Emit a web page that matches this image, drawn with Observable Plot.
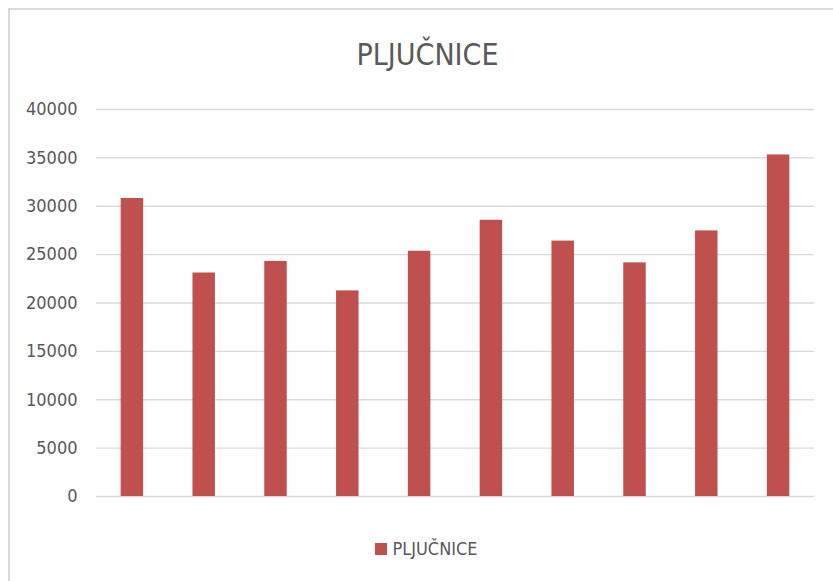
<!DOCTYPE html>
<html>
<head>
<meta charset="utf-8">
<script src="https://cdn.jsdelivr.net/npm/d3@7"></script>
<script src="https://cdn.jsdelivr.net/npm/@observablehq/plot@0.6"></script>
<style>
  html, body { margin: 0; padding: 0; background: #fff; }
  body { width: 833px; height: 581px; position: relative; overflow: hidden;
         font-family: "DejaVu Sans Condensed", "DejaVu Sans", sans-serif; font-stretch: condensed; }
  #frame { position: absolute; left: 8px; top: 8px; width: 840px; height: 600px;
           border-top: 2px solid #d9d9d9; border-left: 2px solid #d9d9d9; box-sizing: border-box; }
  #chart { position: absolute; left: 0; top: 0; }
  #title { position: absolute; left: 0; width: 855px; top: 40px; text-align: center;
           font-size: 30px; color: #595959; line-height: 1; }
  #legend { position: absolute; left: 0; width: 853px; top: 540px; text-align: center;
            font-size: 18px; color: #595959; line-height: 1; }
  #legend .sw { display: inline-block; width: 12px; height: 12px; background: #c0504d;
                margin-right: 5px; vertical-align: 0px; }
</style>
</head>
<body>
<div id="frame"></div>
<div id="chart"></div>
<div id="title">PLJUČNICE</div>
<div id="legend"><span class="sw"></span>PLJUČNICE</div>
<script>
const seriesName = "PLJUČNICE";
const categories = ["1", "2", "3", "4", "5", "6", "7", "8", "9", "10"];
const values = [30800, 23100, 24300, 21250, 25350, 28550, 26400, 24150, 27450, 35300];
const yTicks = [0, 5000, 10000, 15000, 20000, 25000, 30000, 35000, 40000];

const data = categories.map((c, i) => ({category: c, value: values[i]}));

const chart = Plot.plot({
  width: 833,
  height: 581,
  marginLeft: 96,
  marginRight: 19,
  marginTop: 109,
  marginBottom: 85,
  style: {
    fontFamily: '"DejaVu Sans Condensed", "DejaVu Sans", sans-serif',
    fontStretch: "condensed",
    fontSize: "18px",
    color: "#595959",
    background: "transparent"
  },
  x: { domain: categories, paddingInner: 0.687, paddingOuter: 0.3435, round: false, axis: null },
  y: { domain: [0, 40000], ticks: yTicks, tickSize: 0, tickPadding: 19, label: null,
       tickFormat: d => String(d) },
  marks: [
    Plot.ruleY(yTicks, { stroke: "#d9d9d9", strokeWidth: 1.3 }),
    Plot.barY(data, { x: "category", y: "value", fill: "#c0504d" })
  ]
});
document.getElementById("chart").appendChild(chart);
</script>
</body>
</html>
